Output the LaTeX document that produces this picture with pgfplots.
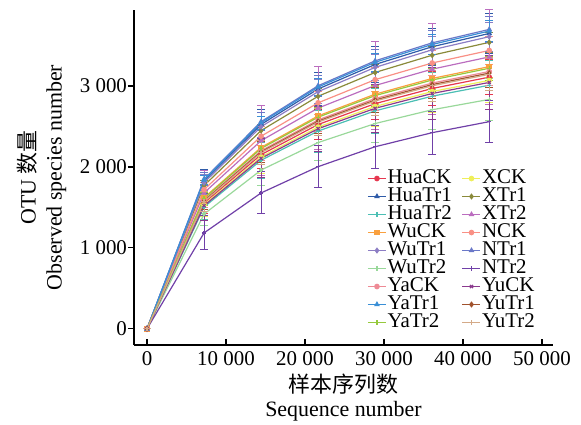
\documentclass[border=0pt]{standalone}
\usepackage{fontspec}
\setmainfont{Liberation Serif}
\newfontfamily\cjk{Noto Sans CJK SC}
\usepackage{pgfplots}
\pgfplotsset{compat=1.18}

\definecolor{cHuaCK}{HTML}{E6374F}
\definecolor{cHuaTr1}{HTML}{2F5BA8}
\definecolor{cHuaTr2}{HTML}{4CBFB4}
\definecolor{cWuCK}{HTML}{F9A03F}
\definecolor{cWuTr1}{HTML}{8C7DC4}
\definecolor{cWuTr2}{HTML}{99D89A}
\definecolor{cYaCK}{HTML}{EE8A95}
\definecolor{cYaTr1}{HTML}{3A8FD6}
\definecolor{cYaTr2}{HTML}{96C93D}
\definecolor{cXCK}{HTML}{EFEF5A}
\definecolor{cXTr1}{HTML}{8A8A3A}
\definecolor{cXTr2}{HTML}{BB6DBF}
\definecolor{cNCK}{HTML}{F99085}
\definecolor{cNTr1}{HTML}{6A78C8}
\definecolor{cNTr2}{HTML}{7040A8}
\definecolor{cYuCK}{HTML}{8B3A8E}
\definecolor{cYuTr1}{HTML}{A0522D}
\definecolor{cYuTr2}{HTML}{D4AA88}

\pgfplotsset{
  ser/.style 2 args={color=#1, line width=0.6bp, mark=#2, mark size=1.1bp,
    mark options={solid, fill=#1},
    error bars/y dir=both, error bars/y explicit,
    error bars/error bar style={line width=0.5bp, color=#1},
    error bars/error mark options={rotate=90, mark size=2bp, line width=0.5bp, color=#1}},
}

\begin{document}
\begin{tikzpicture}
\begin{axis}[
  name=ax,
  scale only axis,
  width=209.5bp, height=167.5bp,
  xmin=-1646, xmax=51392,
  ymin=-200, ymax=3940,
  axis lines*=left,
  axis line style={line width=0.7bp},
  clip=false,
  xtick={0,10000,20000,30000,40000,50000},
  ytick={0,1000,2000,3000},
  scaled x ticks=false, scaled y ticks=false,
  tick align=inside,
  major tick length=3bp,
  ytick style={xshift=-3bp},
  tick style={line width=0.6bp, black},
  /pgf/number format/assume math mode=true,
  /pgf/number format/1000 sep={\ },
  ticklabel style={font=\fontsize{10.5}{12}\selectfont},
  xlabel={{\cjk 样本序列数}\\[-1.5bp]Sequence number},
  ylabel={OTU {\cjk 数量}\\Observed species number},
  xlabel style={at={(axis description cs:0.5,-0.066)}, anchor=north, align=center, font=\fontsize{11}{13.5}\selectfont},
  ylabel style={align=center, font=\fontsize{11}{13}\selectfont},
  legend columns=2,
  legend cell align=left,
  legend image code/.code={\draw[mark repeat=2,mark phase=2] plot coordinates {(0bp,0bp)(4.5bp,0bp)(9bp,0bp)};},
  legend style={at={(0.556,0.525)}, anchor=north west, draw=none, fill=none,
    inner sep=0pt, font=\fontsize{10.5}{10}\selectfont,
    nodes={inner sep=0.5bp, text height=6.5bp, text depth=1.5bp},
    /tikz/every even column/.append style={column sep=4.5bp}},
]
% interleaved so that the two legend columns read HuaCK..YaTr2 and XCK..YuTr2
\addplot[ser={cHuaCK}{*}] table[x=x,y=y,y error=e] {
x y e
0 0 0
7220 1555 130
14440 2152 170
21660 2525 190
28880 2783 200
36100 2970 210
43320 3110 220
};
\addlegendentry{HuaCK}
\addplot[ser={cXCK}{*}] table[x=x,y=y,y error=e] {
x y e
0 0 0
7220 1535 150
14440 2124 200
21660 2493 230
28880 2748 250
36100 2932 260
43320 3070 270
};
\addlegendentry{XCK}
\addplot[ser={cHuaTr1}{triangle*}] table[x=x,y=y,y error=e] {
x y e
0 0 0
7220 1825 150
14440 2526 190
21660 2964 200
28880 3267 220
36100 3486 230
43320 3650 250
};
\addlegendentry{HuaTr1}
\addplot[ser={cXTr1}{diamond*}] table[x=x,y=y,y error=e] {
x y e
0 0 0
7220 1770 60
14440 2450 80
21660 2874 90
28880 3168 100
36100 3381 110
43320 3540 120
};
\addlegendentry{XTr1}
\addplot[ser={cHuaTr2}{+}] table[x=x,y=y,y error=e] {
x y e
0 0 0
7220 1505 160
14440 2083 220
21660 2444 260
28880 2694 280
36100 2875 290
43320 3010 300
};
\addlegendentry{HuaTr2}
\addplot[ser={cXTr2}{triangle*}] table[x=x,y=y,y error=e] {
x y e
0 0 0
7220 1680 280
14440 2325 430
21660 2728 510
28880 3007 540
36100 3209 560
43320 3360 590
};
\addlegendentry{XTr2}
\addplot[ser={cWuCK}{square*}] table[x=x,y=y,y error=e] {
x y e
0 0 0
7220 1620 70
14440 2242 90
21660 2631 110
28880 2900 120
36100 3094 130
43320 3240 140
};
\addlegendentry{WuCK}
\addplot[ser={cNCK}{*}] table[x=x,y=y,y error=e] {
x y e
0 0 0
7220 1720 90
14440 2380 120
21660 2793 140
28880 3079 150
36100 3285 160
43320 3440 170
};
\addlegendentry{NCK}
\addplot[ser={cWuTr1}{diamond*}] table[x=x,y=y,y error=e] {
x y e
0 0 0
7220 1805 100
14440 2498 130
21660 2931 150
28880 3231 160
36100 3448 170
43320 3610 180
};
\addlegendentry{WuTr1}
\addplot[ser={cNTr1}{triangle*}] table[x=x,y=y,y error=e] {
x y e
0 0 0
7220 1850 80
14440 2560 110
21660 3004 130
28880 3312 140
36100 3534 150
43320 3700 160
};
\addlegendentry{NTr1}
\addplot[ser={cWuTr2}{+}] table[x=x,y=y,y error=e] {
x y e
0 0 0
7220 1418 140
14440 1962 190
21660 2302 220
28880 2537 240
36100 2707 250
43320 2835 260
};
\addlegendentry{WuTr2}
\addplot[ser={cNTr2}{+}] table[x=x,y=y,y error=e] {
x y e
0 0 0
7220 1185 210
14440 1679 260
21660 2004 260
28880 2250 263
36100 2424 264
43320 2560 260
};
\addlegendentry{NTr2}
\addplot[ser={cYaCK}{*}] table[x=x,y=y,y error=e] {
x y e
0 0 0
7220 1590 90
14440 2201 120
21660 2582 140
28880 2846 150
36100 3037 160
43320 3180 170
};
\addlegendentry{YaCK}
\addplot[ser={cYuCK}{x}] table[x=x,y=y,y error=e] {
x y e
0 0 0
7220 1522 180
14440 2107 240
21660 2473 280
28880 2725 300
36100 2908 320
43320 3045 330
};
\addlegendentry{YuCK}
\addplot[ser={cYaTr1}{triangle*}] table[x=x,y=y,y error=e] {
x y e
0 0 0
7220 1840 60
14440 2547 80
21660 2988 100
28880 3294 110
36100 3514 120
43320 3680 130
};
\addlegendentry{YaTr1}
\addplot[ser={cYuTr1}{diamond*}] table[x=x,y=y,y error=e] {
x y e
0 0 0
7220 1580 100
14440 2187 130
21660 2566 150
28880 2828 160
36100 3018 170
43320 3160 180
};
\addlegendentry{YuTr1}
\addplot[ser={cYaTr2}{+}] table[x=x,y=y,y error=e] {
x y e
0 0 0
7220 1610 80
14440 2228 100
21660 2615 120
28880 2882 130
36100 3075 140
43320 3220 150
};
\addlegendentry{YaTr2}
\addplot[ser={cYuTr2}{+}] table[x=x,y=y,y error=e] {
x y e
0 0 0
7220 1572 120
14440 2176 150
21660 2554 170
28880 2815 180
36100 3003 190
43320 3145 200
};
\addlegendentry{YuTr2}
\end{axis}
\pgfresetboundingbox
\path[use as bounding box] ([shift={(-67bp,-40bp)}]ax.south west) rectangle ([shift={(14bp,5bp)}]ax.north east);
\end{tikzpicture}
\end{document}
